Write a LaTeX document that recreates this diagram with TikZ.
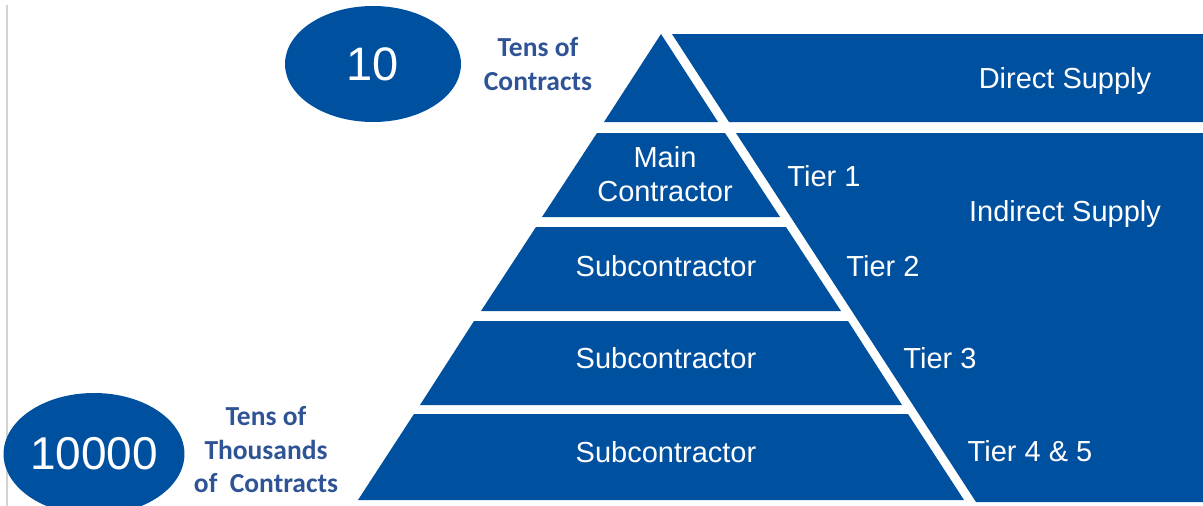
\documentclass[tikz,border=0pt]{standalone}
\usepackage{fontspec}
\setmainfont{Liberation Sans}
\newfontfamily\labelfont{Carlito}
\usepackage{tikz}
\usetikzlibrary{shapes.geometric,positioning}
\definecolor{pyblue}{RGB}{0, 80, 160}
\definecolor{labelblue}{RGB}{47, 84, 150}

\begin{document}
\begin{tikzpicture}[x=1pt, y=-1pt,
  every node/.style={inner sep=0pt, outer sep=0pt},
  band/.style={fill=pyblue},
  wtext/.style={text=white, align=center, font=\fontsize{29}{34}\selectfont},
  btext/.style={text=labelblue, align=center, font=\labelfont\bfseries\fontsize{27.5}{33.5}\selectfont},
  count/.style={ellipse, fill=pyblue, text=white}]
\useasboundingbox (0,0) rectangle (1203,506);
\draw[gray!35, line width=1.5pt] (7,5) -- (7,506);

% Pyramid from top to bottom
\fill[band] (661,34) -- (718,122) -- (604,122) -- cycle;
\fill[band] (597,133) -- (725,133) -- (780,217) -- (542,217) -- cycle;
\fill[band] (536,227) -- (786,227) -- (841,311) -- (481,311) -- cycle;
\fill[band] (474,321) -- (848,321) -- (902,405) -- (420,405) -- cycle;
\fill[band] (414,414) -- (908,414) -- (964,500) -- (358,500) -- cycle;

% Supply blocks on the right
\fill[band] (672,34) -- (1203,34) -- (1203,122) -- (729,122) -- cycle;
\fill[band] (736,133) -- (1203,133) -- (1203,502) -- (976,502) -- cycle;

% Counts
\node[count, minimum width=176pt, minimum height=116pt] (ten) at (373,64) {\fontsize{47}{47}\selectfont 10};
\node[count, minimum width=174pt, minimum height=122pt] (tenk) at (94,454) {\fontsize{46}{46}\selectfont 10000};
\node[btext] (few) at (538,64) {Tens of\\Contracts};
\node[btext] (many) at (266,450) {Tens of\\Thousands\\of~~Contracts};

% Texts in the pyramid
\node[wtext] (main) at (665,174) {Main\\Contractor};
\node[wtext] (sub2) at (666,266) {Subcontractor};
\node[wtext] (sub3) at (666,358) {Subcontractor};
\node[wtext] (sub4) at (666,452) {Subcontractor};

% Tiers
\node[wtext] (direct) at (1065,81) {Direct Supply};
\node[wtext] (indirect) at (1065,214) {Indirect Supply};
\node[wtext] (tier1) at (824,176) {Tier 1};
\node[wtext] (tier2) at (883,266) {Tier 2};
\node[wtext] (tier3) at (940,358) {Tier 3};
\node[wtext] (tier4) at (1030,451) {Tier 4 \& 5};
\end{tikzpicture}
\end{document}
